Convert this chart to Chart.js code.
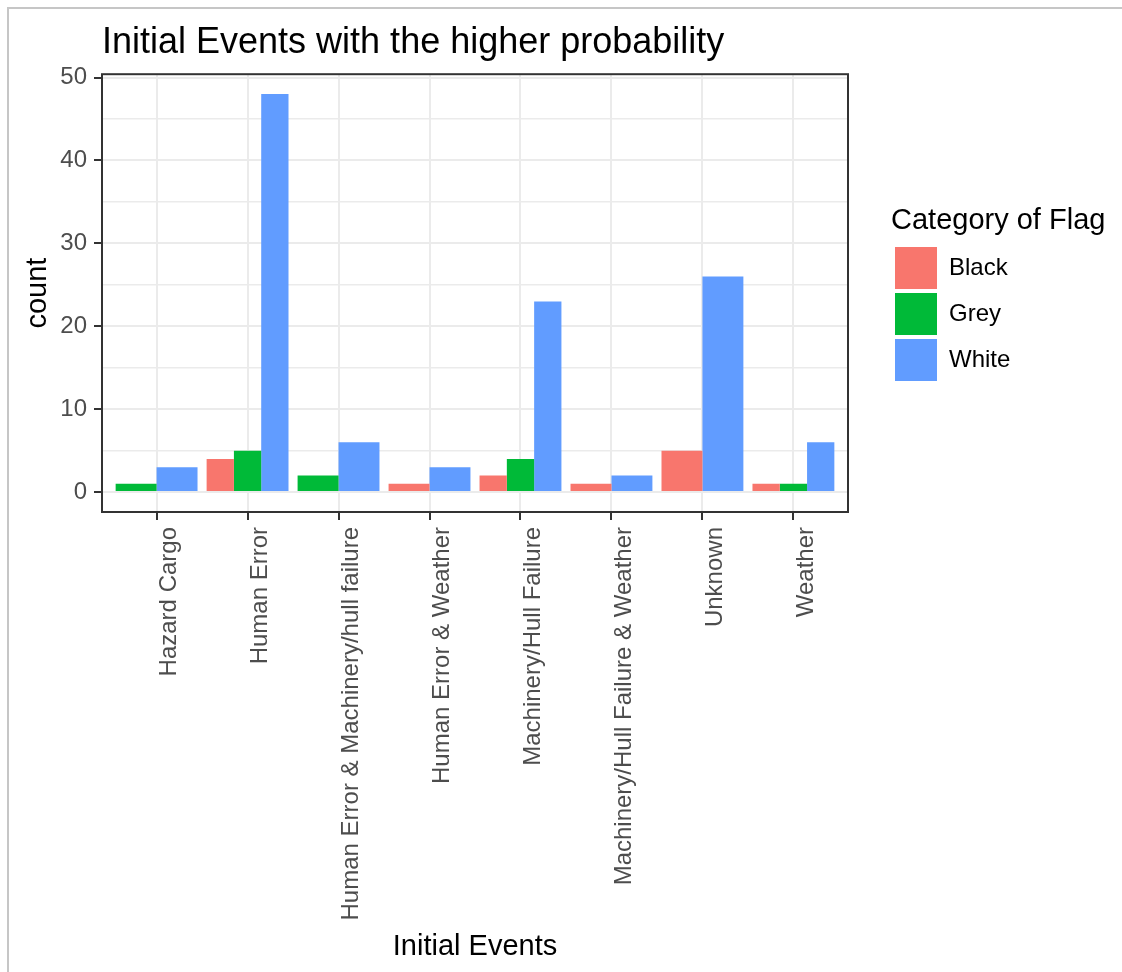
<!DOCTYPE html>
<html>
<head>
<meta charset="utf-8">
<script src="https://cdn.jsdelivr.net/npm/chart.js@4.4.1/dist/chart.umd.min.js"></script>
<style>
  html, body { margin: 0; padding: 0; background: #ffffff; }
  #wrap { position: relative; width: 1122px; height: 972px; overflow: hidden; }
  #frame { position: absolute; left: 7px; top: 7px; right: -10px; bottom: -10px;
           border-top: 2px solid #c6c6c6; border-left: 2px solid #c6c6c6; }
  canvas { position: absolute; left: 0; top: 0; }
</style>
</head>
<body>
<div id="wrap"><div id="frame"></div><canvas id="c" width="1122" height="972"></canvas></div>
<script>
// ---- data ----
const categories = [
  'Hazard Cargo',
  'Human Error',
  'Human Error & Machinery/hull failure',
  'Human Error & Weather',
  'Machinery/Hull Failure',
  'Machinery/Hull Failure & Weather',
  'Unknown',
  'Weather'
];
const seriesNames = ['Black', 'Grey', 'White'];
const blackCounts = [null, 4, null, 1, 2, 1, 5, 1];
const greyCounts  = [1, 5, 2, null, 4, null, null, 1];
const whiteCounts = [3, 48, 6, 3, 23, 2, 26, 6];
const yTickLabels = [0, 10, 20, 30, 40, 50];
const seriesColors = ['#F8766D', '#00BA38', '#619CFF'];

// ggplot-like continuous expansion (5% each side)
const allValues = [...blackCounts, ...greyCounts, ...whiteCounts].filter(v => v !== null);
const yDataMax = Math.max(...allValues);
const yDataMin = Math.min(0, ...allValues);
const ySpan = yDataMax - yDataMin;

// ggplot-like discrete axis: 0.6 category units of padding on each side
const BaseCat = Chart.CategoryScale || Chart.registry.getScale('category');
class GGCategoryScale extends BaseCat {
  configure() {
    super.configure();
    this._startValue = this.min - 0.6;
    this._valueRange = (this.max - this.min) + 1.2;
  }
}
GGCategoryScale.id = 'ggcategory';
GGCategoryScale.defaults = Object.assign({}, BaseCat.defaults);
Chart.register(GGCategoryScale);

Chart.defaults.font.family = '"Liberation Sans", Arial, sans-serif';

const panelBorder = {
  id: 'panelBorder',
  afterDatasetsDraw(chart) {
    const { ctx, chartArea: a } = chart;
    ctx.save();
    ctx.strokeStyle = '#333333';
    ctx.lineWidth = 2;
    ctx.strokeRect(a.left, a.top, a.right - a.left, a.bottom - a.top);
    ctx.restore();
  }
};

// widen the legend box so its title is not clipped
const legendWidth = {
  id: 'legendWidth',
  beforeLayout(chart) {
    const lg = chart.legend;
    if (lg && !lg.__wide) {
      const orig = lg.fit;
      lg.fit = function () { orig.call(this); this.width = 231; };
      lg.__wide = true;
    }
  }
};

const seriesData = [blackCounts, greyCounts, whiteCounts];

new Chart(document.getElementById('c'), {
  type: 'bar',
  data: {
    labels: categories,
    datasets: seriesNames.map((name, i) => ({
      label: name,
      data: seriesData[i],
      backgroundColor: seriesColors[i],
      borderWidth: 0,
      categoryPercentage: 0.9,
      barPercentage: 1.0,
      skipNull: true,
      xAxisID: 'x',
      yAxisID: 'y'
    }))
  },
  options: {
    responsive: false,
    animation: false,
    layout: { padding: { left: 17, right: 0, top: 0, bottom: 4 } },
    scales: {
      y: {
        type: 'linear',
        position: 'left',
        min: yDataMin - 0.05 * ySpan,
        max: yDataMax + 0.05 * ySpan,
        afterFit(s) { s.width = 85; },
        ticks: {
          stepSize: 5,
          includeBounds: false,
          padding: 7,
          color: '#4D4D4D',
          font: { size: 24 },
          callback: (v) => yTickLabels.includes(v) ? String(v) : ''
        },
        grid: {
          color: '#EBEBEB',
          lineWidth: (c) => (c.tick && yTickLabels.includes(c.tick.value)) ? 2 : 1.5,
          tickColor: (c) => (c.tick && yTickLabels.includes(c.tick.value)) ? '#333333' : 'rgba(0,0,0,0)',
          tickLength: 8,
          tickWidth: 2
        },
        border: { display: false },
        title: {
          display: true,
          text: 'count',
          color: '#000000',
          font: { size: 29 },
          padding: { top: 4, bottom: 4 }
        }
      },
      yRight: {
        type: 'linear',
        position: 'right',
        display: true,
        afterFit(s) { s.width = 43; },
        ticks: { display: false },
        grid: { display: false },
        border: { display: false }
      },
      x: {
        type: 'ggcategory',
        position: 'bottom',
        afterFit(s) { s.height = 456; },
        ticks: {
          autoSkip: false,
          minRotation: 90,
          maxRotation: 90,
          padding: 7,
          labelOffset: 13,
          color: '#4D4D4D',
          font: { size: 24 }
        },
        grid: {
          offset: false,
          color: '#EBEBEB',
          lineWidth: 2,
          tickColor: '#333333',
          tickLength: 8,
          tickWidth: 2
        },
        border: { display: false },
        title: {
          display: true,
          text: 'Initial Events',
          color: '#000000',
          font: { size: 29 },
          padding: { top: 4, bottom: 4 }
        }
      }
    },
    plugins: {
      title: {
        display: true,
        text: 'Initial Events with the higher probability',
        align: 'start',
        fullSize: false,
        color: '#000000',
        font: { size: 36, weight: 'normal' },
        padding: { top: 21, bottom: 10 }
      },
      legend: {
        display: true,
        position: 'right',
        align: 'start',
        fullSize: false,
        title: {
          display: true,
          text: 'Category of Flag',
          position: 'start',
          color: '#000000',
          font: { size: 29 },
          padding: { top: 132, bottom: 2 }
        },
        labels: {
          boxWidth: 42,
          boxHeight: 42,
          padding: 4,
          color: '#000000',
          font: { size: 24 }
        }
      },
      tooltip: { enabled: false }
    }
  },
  plugins: [panelBorder, legendWidth]
});
</script>
</body>
</html>
